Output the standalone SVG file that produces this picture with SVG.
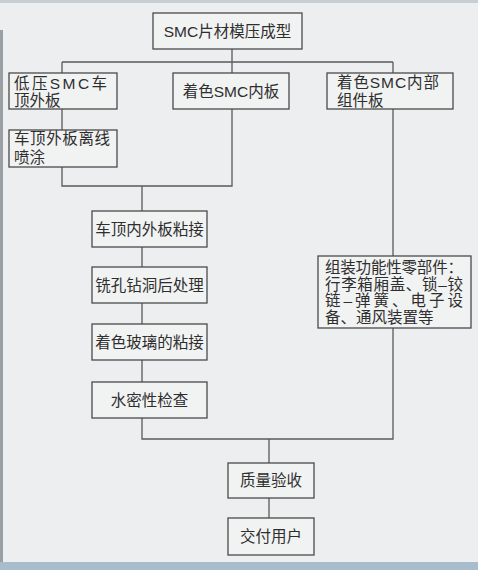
<svg xmlns="http://www.w3.org/2000/svg" width="478" height="570" viewBox="0 0 478 570">
<style>
.bg{fill:#eceeef}
.box{fill:#f1f2f2;stroke:#4a4a4a;stroke-width:1.3}
.ln{fill:none;stroke:#5a5a5a;stroke-width:1.3}
text{font-family:"Liberation Sans","Noto Sans CJK SC",sans-serif;font-size:15.5px;fill:#2e2e2e}
.c{text-anchor:middle}
</style>
<rect class="bg" x="0" y="0" width="478" height="570"/>
<rect x="0" y="30" width="3" height="532" fill="#9a9fa3"/>
<rect x="0" y="0" width="478" height="3" fill="#c9ced2"/>
<rect x="0" y="562" width="478" height="8" fill="#a9bccb"/>
<g id="connectors">
<path class="ln" d="M232 49V62M62 62H393M62 62V73M232 62V73M393 62V73"/>
<path class="ln" d="M62 109V130M62 167V186H232V109M142 186V211"/>
<path class="ln" d="M142 247V267M142 303V324M142 360V382M142 418V439H393V328M393 109V256"/>
<path class="ln" d="M269 439V463M269 498V518"/>
</g>
<g id="n1"><rect class="box" x="153" y="13" width="149" height="36"/><text class="c" x="227.5" y="37">SMC片材模压成型</text></g>
<g id="n2"><rect class="box" x="9" y="73" width="108" height="36"/><text x="14" y="89" textLength="93" lengthAdjust="spacing">低压SMC车</text><text x="14" y="106">顶外板</text></g>
<g id="n3"><rect class="box" x="173" y="73" width="116" height="36"/><text class="c" x="231" y="97">着色SMC内板</text></g>
<g id="n4"><rect class="box" x="327" y="73" width="126" height="36"/><text x="337" y="88" textLength="102" lengthAdjust="spacing">着色SMC内部</text><text x="337" y="106">组件板</text></g>
<g id="n5"><rect class="box" x="9" y="130" width="108" height="37"/><text x="14" y="144" textLength="96" lengthAdjust="spacing">车顶外板离线</text><text x="14" y="163">喷涂</text></g>
<g id="n6"><rect class="box" x="92" y="211" width="115" height="36"/><text class="c" x="149.5" y="234.5">车顶内外板粘接</text></g>
<g id="n7"><rect class="box" x="92" y="267" width="115" height="36"/><text class="c" x="149.5" y="291">铣孔钻洞后处理</text></g>
<g id="n8"><rect class="box" x="92" y="324" width="115" height="36"/><text class="c" x="149.5" y="347.5">着色玻璃的粘接</text></g>
<g id="n9"><rect class="box" x="92" y="382" width="115" height="36"/><text class="c" x="149.5" y="405.5">水密性检查</text></g>
<g id="n10"><rect class="box" x="318" y="256" width="153" height="72"/>
<text x="325" y="272.5" textLength="138" lengthAdjust="spacing">组装功能性零部件：</text>
<text x="325" y="289.5" textLength="138" lengthAdjust="spacing">行李箱厢盖、锁–铰</text>
<text x="325" y="306" textLength="138" lengthAdjust="spacing">链–弹簧、电子设</text>
<text x="325" y="322.5">备、通风装置等</text></g>
<g id="n11"><rect class="box" x="228" y="463" width="86" height="35"/><text class="c" x="271" y="485.5">质量验收</text></g>
<g id="n12"><rect class="box" x="228" y="518" width="86" height="37"/><text class="c" x="271" y="542">交付用户</text></g>
</svg>
